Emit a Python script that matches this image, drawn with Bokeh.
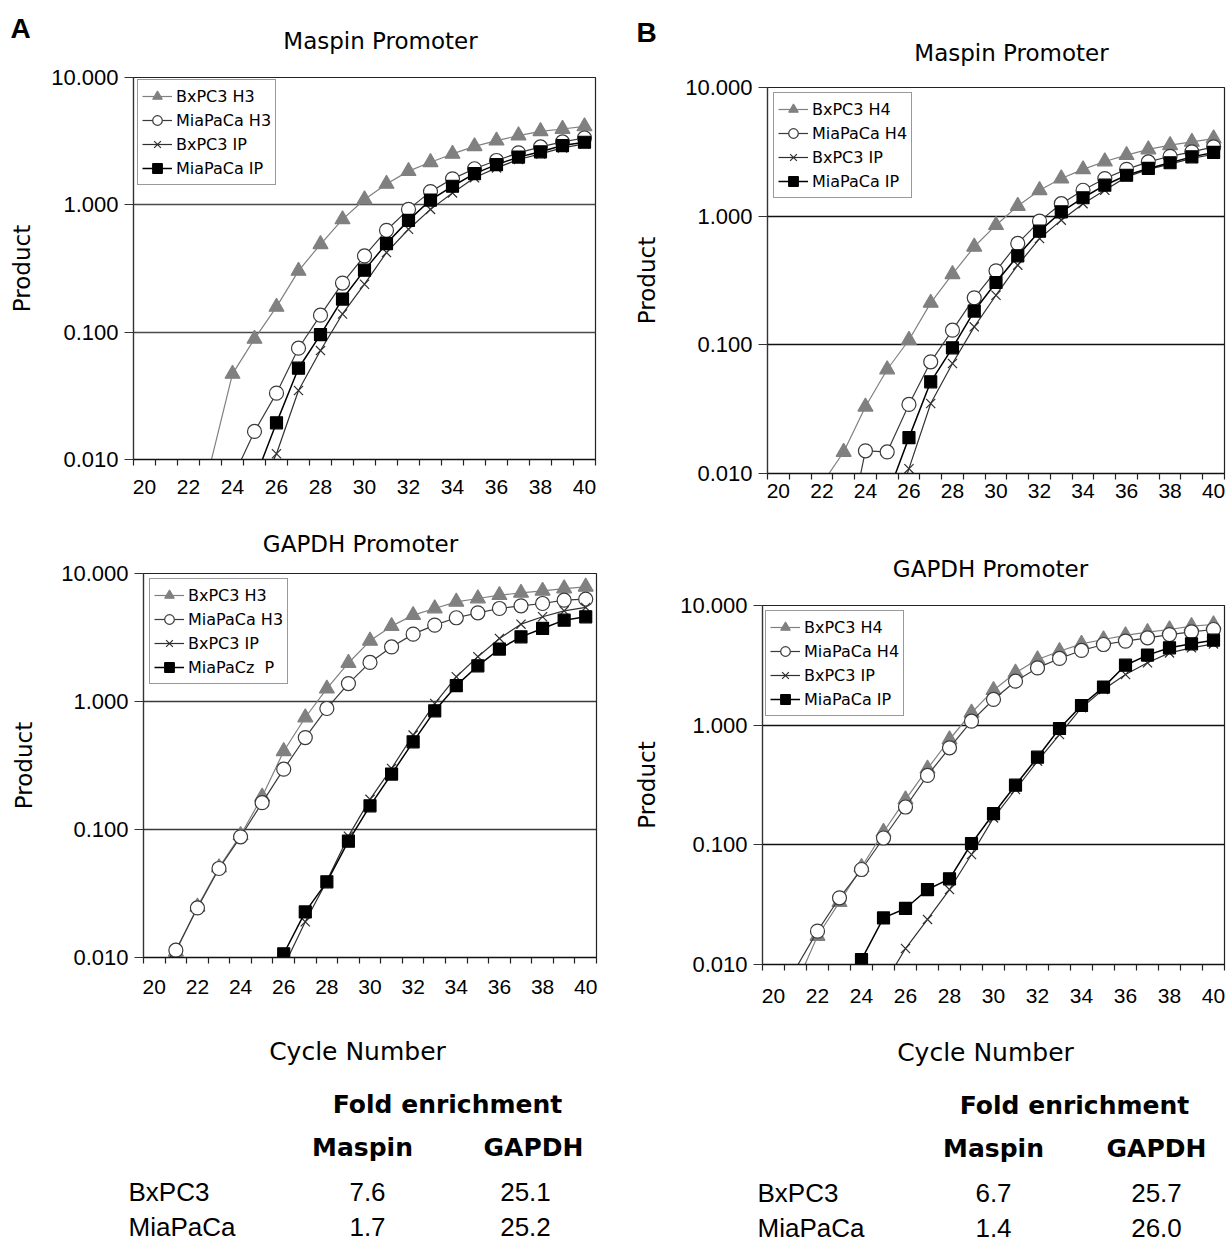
from bokeh.plotting import figure
from bokeh.models import (Range1d, FixedTicker, PrintfTickFormatter, Legend, LegendItem)
from bokeh.layouts import row, column
from bokeh.embed import file_html
from bokeh.resources import INLINE
from bokeh.core.properties import value

# ---------------- data ----------------
CYCLES = list(range(20, 41))
AXIS_MIN, AXIS_MAX = 0.01, 10.0
Y_TICKS = [0.01, 0.1, 1.0, 10.0]
GRID_TICKS = [0.1, 1.0]
X_LABEL_TICKS = list(range(20, 41, 2))
X_CELL_EDGES = [c - 0.5 for c in range(20, 42)]

# Panel A, Maspin promoter (H3)
a_maspin_bxpc3_h3 = [None, None, 0.0100, 0.0093, 0.047, 0.0885, 0.158, 0.303, 0.490, 0.769, 1.10,
                     1.46, 1.84, 2.16, 2.51, 2.88, 3.19, 3.50, 3.78, 3.94, 4.13]
a_maspin_miapaca_h3 = [None, None, None, None, 0.0071, 0.0166, 0.0332, 0.0748, 0.136, 0.243, 0.397,
                       0.631, 0.921, 1.27, 1.60, 1.92, 2.23, 2.56, 2.85, 3.12, 3.35]
a_maspin_bxpc3_ip = [None, None, None, None, None, 0.0048, 0.0111, 0.0348, 0.0717, 0.139, 0.238,
                     0.422, 0.643, 0.921, 1.24, 1.63, 1.95, 2.27, 2.51, 2.80, 3.01]
a_maspin_miapaca_ip = [None, None, None, None, None, 0.0069, 0.0194, 0.0521, 0.0957, 0.182, 0.307,
                       0.496, 0.755, 1.09, 1.40, 1.76, 2.07, 2.37, 2.61, 2.92, 3.10]

# Panel B, Maspin promoter (H4)
b_maspin_bxpc3_h4 = [None, None, 0.0083, 0.0147, 0.0330, 0.0643, 0.109, 0.212, 0.354, 0.578, 0.851,
                     1.20, 1.59, 1.96, 2.31, 2.66, 2.98, 3.30, 3.56, 3.78, 4.01]
b_maspin_miapaca_h4 = [None, None, None, 0.0023, 0.0150, 0.0147, 0.0344, 0.0738, 0.130, 0.232, 0.376,
                       0.614, 0.915, 1.25, 1.59, 1.96, 2.31, 2.64, 2.92, 3.16, 3.46]
b_maspin_bxpc3_ip = [None, None, None, None, None, 0.0035, 0.0109, 0.0350, 0.0716, 0.138, 0.243,
                     0.416, 0.670, 0.931, 1.25, 1.59, 2.02, 2.31, 2.54, 2.81, 3.03]
b_maspin_miapaca_ip = [None, None, None, None, None, 0.0067, 0.0190, 0.0516, 0.0948, 0.183, 0.305,
                       0.492, 0.764, 1.08, 1.39, 1.74, 2.08, 2.35, 2.60, 2.89, 3.13]

# Panel A, GAPDH promoter (H3)
a_gapdh_bxpc3_h3 = [0.0072, 0.0111, 0.0249, 0.0505, 0.0903, 0.180, 0.409, 0.750, 1.26, 2.00, 2.98,
                    3.88, 4.73, 5.33, 6.01, 6.38, 6.77, 7.06, 7.32, 7.63, 7.87]
a_gapdh_miapaca_h3 = [0.0072, 0.0114, 0.0244, 0.0496, 0.0877, 0.162, 0.296, 0.523, 0.882, 1.38, 2.02,
                      2.67, 3.36, 3.95, 4.51, 4.93, 5.33, 5.59, 5.83, 6.19, 6.30]
a_gapdh_bxpc3_ip = [None, None, None, None, None, 0.0030, 0.0085, 0.0190, 0.0397, 0.0887, 0.172,
                    0.300, 0.546, 0.964, 1.56, 2.24, 3.11, 4.02, 4.59, 5.11, 5.43]
a_gapdh_miapaca_ip = [None, None, None, None, None, 0.0066, 0.0107, 0.0227, 0.0390, 0.0811, 0.153,
                      0.271, 0.484, 0.845, 1.33, 1.90, 2.57, 3.20, 3.72, 4.32, 4.59]

# Panel B, GAPDH promoter (H4)
b_gapdh_bxpc3_h4 = [None, 0.0066, 0.0173, 0.0332, 0.0650, 0.128, 0.239, 0.432, 0.759, 1.27, 1.96,
                    2.74, 3.54, 4.15, 4.78, 5.20, 5.62, 5.99, 6.30, 6.72, 6.94]
b_gapdh_miapaca_h4 = [None, 0.0092, 0.0190, 0.0361, 0.0622, 0.114, 0.207, 0.380, 0.647, 1.08, 1.64,
                      2.33, 3.01, 3.61, 4.21, 4.72, 5.04, 5.37, 5.72, 6.03, 6.30]
b_gapdh_bxpc3_ip = [None, None, None, None, None, 0.0067, 0.0136, 0.0238, 0.0423, 0.0830, 0.168,
                    0.290, 0.500, 0.835, 1.40, 1.99, 2.65, 3.32, 4.02, 4.43, 4.78]
b_gapdh_miapaca_ip = [None, None, None, None, 0.0110, 0.0245, 0.0294, 0.0423, 0.0520, 0.1026, 0.182,
                      0.315, 0.540, 0.938, 1.46, 2.08, 3.17, 3.85, 4.43, 4.78, 5.13]

legend_a_maspin = ["BxPC3 H3", "MiaPaCa H3", "BxPC3 IP", "MiaPaCa IP"]
legend_a_gapdh = ["BxPC3 H3", "MiaPaCa H3", "BxPC3 IP", "MiaPaCz  P"]
legend_b = ["BxPC3 H4", "MiaPaCa H4", "BxPC3 IP", "MiaPaCa IP"]

# Fold-enrichment tables
table_cells = ["BxPC3", "MiaPaCa"]
table_cols = ["Maspin", "GAPDH"]
fold_a_maspin = [7.6, 1.7]
fold_a_gapdh = [25.1, 25.2]
fold_b_maspin = [6.7, 1.4]
fold_b_gapdh = [25.7, 26.0]

# ---------------- styles ----------------
KINDS = ["tri", "circ", "x", "sq"]
STYLE = {
    "tri": dict(marker="triangle", size=15, fill_color="#808080", line_color="#808080", lc="#808080", lw=1.2),
    "circ": dict(marker="circle", size=14, fill_color="white", line_color="#3a3a3a", lc="#3a3a3a", lw=1.2),
    "x": dict(marker="x", size=13, fill_color=None, line_color="#303030", lc="#303030", lw=1.2),
    "sq": dict(marker="square", size=12, fill_color="black", line_color="black", lc="black", lw=1.5),
}
TICK_FONT = "Liberation Sans"
TEXT_FONT = "DejaVu Sans"


def add_series(p, ys, kind):
    st = STYLE[kind]
    xs = [c for c, v in zip(CYCLES, ys) if v is not None]
    vs = [v for v in ys if v is not None]
    ln = p.line(xs, vs, line_color=st["lc"], line_width=st["lw"])
    mx = [x for x, v in zip(xs, vs) if v > AXIS_MIN * 1.05]
    mv = [v for v in vs if v > AXIS_MIN * 1.05]
    sc = p.scatter(mx, mv, marker=st["marker"], size=st["size"], fill_color=st["fill_color"],
                   line_color=st["line_color"], line_width=1.2)
    return [ln, sc]


def make_panel(w, h, mb, series, labels, grid_color, legend_xy, xlab_standoff, ylab_standoff):
    p = figure(width=w, height=h, y_axis_type="log", title=None,
               x_range=Range1d(19.5, 40.5), y_range=Range1d(AXIS_MIN, AXIS_MAX),
               output_backend="svg", toolbar_location=None,
               min_border_left=mb[0], min_border_right=mb[1],
               min_border_top=mb[2], min_border_bottom=mb[3])
    p.frame_align = False
    p.background_fill_color = "white"
    p.border_fill_color = "white"
    p.outline_line_color = "#222222"
    p.outline_line_width = 1.2

    # y axis
    p.yaxis.ticker = FixedTicker(ticks=Y_TICKS)
    p.yaxis.formatter = PrintfTickFormatter(format="%.3f")
    p.yaxis.major_tick_out = 9
    p.yaxis.major_tick_in = 0
    p.yaxis.minor_tick_line_color = None
    p.yaxis.major_label_text_font = TICK_FONT
    p.yaxis.major_label_text_font_size = "22px"
    p.yaxis.major_label_text_color = "black"
    p.yaxis.major_label_standoff = 6
    p.yaxis.axis_line_color = "#333333"
    p.yaxis.axis_line_width = 1.2
    p.yaxis.major_tick_line_color = "#333333"
    p.yaxis.axis_label = "Product"
    p.yaxis.axis_label_text_font = TEXT_FONT
    p.yaxis.axis_label_text_font_size = "23px"
    p.yaxis.axis_label_text_font_style = "normal"
    p.yaxis.axis_label_text_color = "black"
    p.yaxis.axis_label_standoff = ylab_standoff

    # x axis: category-style, ticks between cycles, labels every 2nd cycle
    p.xaxis.ticker = FixedTicker(ticks=X_LABEL_TICKS, minor_ticks=X_CELL_EDGES)
    p.xaxis.major_tick_line_color = None
    p.xaxis.major_tick_out = 6
    p.xaxis.major_tick_in = 0
    p.xaxis.minor_tick_out = 6
    p.xaxis.minor_tick_in = 0
    p.xaxis.minor_tick_line_color = "#222222"
    p.xaxis.minor_tick_line_width = 1.2
    p.xaxis.axis_line_color = "#111111"
    p.xaxis.axis_line_width = 1.5
    p.xaxis.major_label_text_font = TICK_FONT
    p.xaxis.major_label_text_font_size = "21px"
    p.xaxis.major_label_text_color = "black"
    p.xaxis.major_label_standoff = xlab_standoff

    p.xgrid.visible = False
    p.ygrid.ticker = FixedTicker(ticks=GRID_TICKS)
    p.ygrid.grid_line_color = grid_color
    p.ygrid.grid_line_width = 1.3

    items = []
    for ys, kind, lab in zip(series, KINDS, labels):
        rs = add_series(p, ys, kind)
        items.append(LegendItem(label=lab, renderers=rs))
    leg = Legend(items=items, location=legend_xy)
    leg.border_line_color = "#333333"
    leg.border_line_width = 1.2
    leg.background_fill_color = "white"
    leg.background_fill_alpha = 1.0
    leg.padding = 4
    leg.spacing = -2
    leg.margin = 0
    leg.glyph_width = 30
    leg.glyph_height = 24
    leg.label_height = 24
    leg.label_standoff = 4
    leg.label_text_font = TEXT_FONT
    leg.label_text_font_size = "16px"
    leg.label_text_color = "black"
    p.add_layout(leg)
    return p


def text_panel(w, h, entries):
    """entries: (x, y, text, size, align, font, style) in pixels of this panel (y = text middle)."""
    p = figure(width=w, height=h, x_range=Range1d(0, w), y_range=Range1d(h, 0), title=None,
               output_backend="svg", toolbar_location=None, min_border=0,
               x_axis_location=None, y_axis_location=None)
    p.frame_align = False
    p.grid.visible = False
    p.outline_line_color = None
    p.background_fill_color = "white"
    p.border_fill_color = "white"
    for (x, y, t, size, align, font, style) in entries:
        p.text(x=[x], y=[y], text=[t], text_font=value(font), text_font_size=value(size),
               text_align=align, text_baseline="middle", text_font_style=style, text_color="black")
    return p


def table_entries(x_label, x_cols, x_vals, y0, center_fold, col_maspin, col_gapdh):
    e = [(center_fold, y0, "Fold enrichment", "25px", "center", TEXT_FONT, "bold")]
    for j, col in enumerate(table_cols):
        e.append((x_cols[j], y0 + 43, col, "25px", "center", TEXT_FONT, "bold"))
    for i, cell in enumerate(table_cells):
        yy = y0 + 87 + 35 * i
        e.append((x_label, yy, cell, "26px", "left", TICK_FONT, "normal"))
        e.append((x_vals[0], yy, f"{col_maspin[i]:.1f}", "26px", "center", TICK_FONT, "normal"))
        e.append((x_vals[1], yy, f"{col_gapdh[i]:.1f}", "26px", "center", TICK_FONT, "normal"))
    return e


# ---------------- column A ----------------
hdr_a = text_panel(610, 60, [
    (10, 28, "A", "28px", "left", "Liberation Sans", "bold"),
    (380, 40, "Maspin Promoter", "23px", "center", TEXT_FONT, "normal"),
])
pa_top = make_panel(610, 449, (133, 15, 17, 50),
                    [a_maspin_bxpc3_h3, a_maspin_miapaca_h3, a_maspin_bxpc3_ip, a_maspin_miapaca_ip],
                    legend_a_maspin, "#4a4a4a", (4, 274), 14, 13)
hdr_a2 = text_panel(610, 51, [
    (360, 34, "GAPDH Promoter", "23px", "center", TEXT_FONT, "normal"),
])
pa_bot = make_panel(610, 447, (143, 14, 13, 50),
                    [a_gapdh_bxpc3_h3, a_gapdh_miapaca_h3, a_gapdh_bxpc3_ip, a_gapdh_miapaca_ip],
                    legend_a_gapdh, "#3a3a3a", (6, 273), 16, 21)
tab_a = text_panel(610, 235,
                   [(357, 44, "Cycle Number", "25px", "center", TEXT_FONT, "normal")] +
                   table_entries(128, [362, 533], [367, 525], 97, 447, fold_a_maspin, fold_a_gapdh))

# ---------------- column B ----------------
hdr_b = text_panel(616, 70, [
    (26, 32, "B", "28px", "left", "Liberation Sans", "bold"),
    (401, 52, "Maspin Promoter", "23px", "center", TEXT_FONT, "normal"),
])
pb_top = make_panel(616, 460, (157, 2, 17, 57),
                    [b_maspin_bxpc3_h4, b_maspin_miapaca_h4, b_maspin_bxpc3_ip, b_maspin_miapaca_ip],
                    legend_b, "#111111", (6, 275), 4, 22)
hdr_b2 = text_panel(616, 60, [
    (380, 38, "GAPDH Promoter", "23px", "center", TEXT_FONT, "normal"),
])
pb_bot = make_panel(616, 424, (152, 2, 15, 50),
                    [b_gapdh_bxpc3_h4, b_gapdh_miapaca_h4, b_gapdh_bxpc3_ip, b_gapdh_miapaca_ip],
                    legend_b, "#111111", (3, 248), 18, 17)
tab_b = text_panel(616, 228,
                   [(375, 38, "Cycle Number", "25px", "center", TEXT_FONT, "normal")] +
                   table_entries(147, [383, 546], [383, 546], 91, 464, fold_b_maspin, fold_b_gapdh))

layout = row(column(hdr_a, pa_top, hdr_a2, pa_bot, tab_a),
             column(hdr_b, pb_top, hdr_b2, pb_bot, tab_b))

with open("out.html", "w") as f:
    f.write(file_html(layout, INLINE))
